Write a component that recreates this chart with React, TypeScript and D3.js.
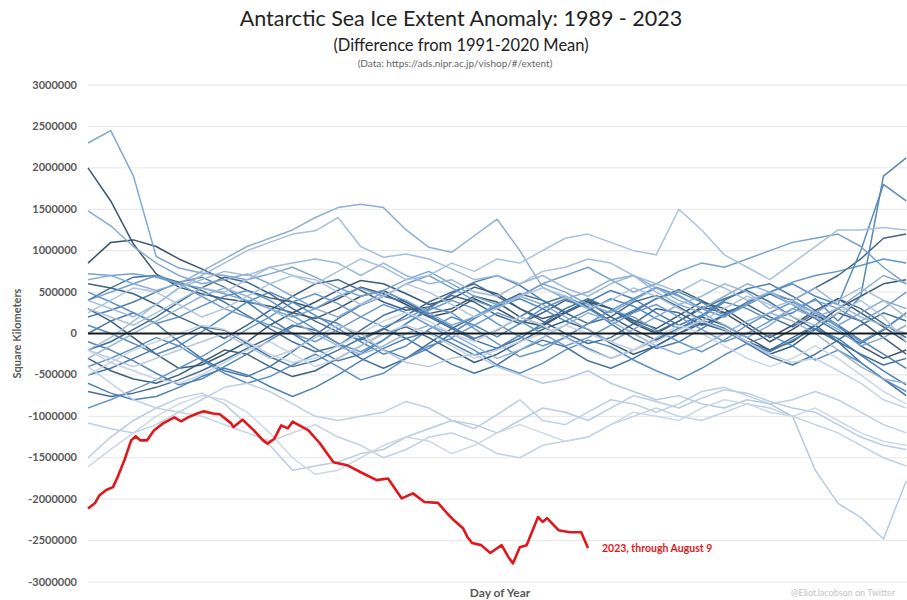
import React from "react";
import * as d3 from "d3";

const TITLE = "Antarctic Sea Ice Extent Anomaly: 1989 - 2023";
const SUBTITLE = "(Difference from 1991-2020 Mean)";
const SOURCE = "(Data: https://ads.nipr.ac.jp/vishop/#/extent)";
const Y_LABEL = "Square Kilometers";
const X_LABEL = "Day of Year";
const RED_LABEL = "2023, through August 9";
const CREDIT = "@EliotJacobson on Twitter";

const Y_TICKS = [3000000, 2500000, 2000000, 1500000, 1000000, 500000, 0, -500000, -1000000, -1500000, -2000000, -2500000, -3000000];

// sample days for the 1989-2022 series (values in thousands of km²)
const BLUE_DAYS = [1, 11, 21, 31, 41, 51, 61, 71, 81, 91, 101, 111, 121, 131, 141, 151, 161, 171, 181, 191, 201, 211, 221, 231, 241, 251, 261, 271, 281, 291, 301, 311, 321, 331, 341, 351, 361];

const YEARS = [1989, 1990, 1991, 1992, 1993, 1994, 1995, 1996, 1997, 1998, 1999, 2000, 2001, 2002, 2003, 2004, 2005, 2006, 2007, 2008, 2009, 2010, 2011, 2012, 2013, 2014, 2015, 2016, 2017, 2018, 2019, 2020, 2021, 2022];

const Y1989 = [850, 1100, 1130, 1050, 900, 780, 650, 520, 430, 380, 300, 420, 560, 480, 350, 200, 260, 420, 300, 150, 90, 250, 380, 300, 120, 0, 150, 320, 250, 80, -100, 50, 220, 100, -150, -300, -200];
const Y1990 = [2000, 1600, 1080, 720, 560, 480, 420, 380, 330, 250, 180, 300, 450, 520, 380, 240, 300, 450, 380, 200, 100, 260, 400, 300, 160, 60, 220, 380, 300, 120, -50, 100, 280, 420, 250, 80, -100];
const Y1991 = [300, 150, -50, -250, -420, -380, -250, -100, 100, 250, 380, 520, 640, 600, 480, 350, 420, 560, 480, 300, 180, 250, 380, 200, 50, -80, 50, 200, 100, -50, -200, -100, 100, 300, 450, 600, 650];
const Y1992 = [-300, -450, -550, -600, -500, -350, -200, -250, -400, -520, -450, -300, -150, 0, 80, -50, -200, -350, -250, -100, 50, 150, 50, -120, -250, -150, 0, 120, 40, -100, -250, -150, 50, 250, 150, -50, -250];
const Y1993 = [600, 550, 480, 350, 200, 80, -60, 100, 280, 450, 600, 650, 520, 380, 280, 320, 460, 380, 220, 120, 250, 400, 320, 150, 260, 420, 530, 400, 250, 350, 480, 400, 550, 700, 900, 1150, 1200];
const Y1994 = [-200, -100, 50, 200, 380, 550, 680, 620, 480, 300, 150, 20, -80, 50, 220, 380, 500, 600, 450, 300, 150, 0, -120, -50, 120, 300, 250, 100, 220, 350, 200, 80, 250, 420, 300, 120, -50];
const Y1995 = [-700, -760, -720, -650, -560, -450, -320, -180, -50, 100, 40, -120, -300, -420, -300, -120, 60, 200, 350, 480, 400, 250, 120, 200, 380, 460, 320, 160, 60, -100, -200, -50, 100, -100, -350, -550, -750];
const Y1996 = [400, 550, 680, 700, 620, 520, 380, 220, 60, -100, -220, -150, 40, 220, 320, 200, 60, -80, -180, -60, 120, 300, 420, 300, 140, 20, 150, 300, 420, 520, 380, 200, 50, -100, -250, -380, -300];
const Y1997 = [-500, -420, -300, -180, -50, 80, 40, -120, -280, -400, -330, -200, -60, 60, -60, -220, -370, -480, -380, -200, -80, -160, -330, -420, -300, -150, 0, 150, 60, -120, -280, -380, -250, -80, 100, 250, 150];
const Y1998 = [0, 150, 250, 120, -100, -300, -450, -520, -400, -220, -20, 180, 340, 450, 380, 220, 80, -60, 40, 200, 360, 450, 320, 120, -60, -180, -100, 60, 220, 380, 480, 350, 180, 20, -120, 40, 250];
const Y1999 = [200, 280, 380, 500, 620, 680, 560, 380, 180, 0, -180, -330, -250, -80, 120, 300, 480, 620, 700, 580, 400, 260, 380, 520, 420, 250, 100, 220, 400, 540, 600, 450, 280, 100, -80, -250, -420];
const Y2000 = [-600, -720, -800, -760, -650, -520, -420, -500, -640, -760, -650, -500, -330, -180, -60, 20, -120, -260, -180, -20, 80, -40, -180, -300, -200, -60, 60, 150, 40, -120, -220, -80, 60, -60, -260, -450, -620];
const Y2001 = [-100, -200, -330, -480, -620, -550, -400, -250, -80, 80, 200, 120, -50, -200, -300, -180, 0, 180, 330, 420, 300, 150, 280, 420, 330, 180, 60, 200, 380, 300, 160, 250, 420, 150, 450, 1900, 2120];
const Y2002 = [100, 0, -120, -250, -150, 20, 200, 380, 500, 380, 220, 60, -100, -250, -150, 50, 200, 100, -40, 120, 300, 420, 300, 150, 280, 420, 500, 380, 220, 350, 500, 600, 450, 350, 1000, 1800, 1600];
const Y2003 = [-400, -300, -180, -50, -150, -320, -480, -600, -520, -380, -250, -400, -560, -480, -300, -150, -60, -200, -380, -480, -360, -200, -80, -160, -320, -450, -560, -420, -260, -120, -20, -150, -320, -200, -350, -550, -700];
const Y2004 = [500, 380, 250, 120, 200, 330, 450, 520, 400, 220, 50, -120, -220, -80, 120, 280, 400, 300, 120, -40, -150, -50, 120, 280, 420, 560, 460, 300, 200, 350, 500, 620, 700, 750, 820, 900, 850];
const Y2005 = [-900, -800, -680, -560, -420, -280, -120, 50, 200, 380, 480, 360, 200, 80, 180, 320, 250, 60, -120, -280, -200, -40, 120, 280, 200, 40, -100, -220, -80, 100, 250, 380, 250, 80, -100, 50, 250];
const Y2006 = [400, 500, 600, 700, 600, 450, 300, 200, 100, 0, -100, 50, 200, 350, 250, 100, -50, 100, 250, 150, 0, -150, -50, 100, 250, 350, 200, 50, -100, 0, 150, 300, 400, 300, 150, 300, 500];
const Y2007 = [720, 700, 720, 680, 600, 550, 480, 400, 300, 200, 300, 450, 550, 450, 600, 700, 550, 400, 300, 450, 600, 700, 800, 650, 500, 600, 750, 850, 800, 900, 1000, 1100, 1150, 1200, 1050, 800, 600];
const Y2008 = [2300, 2450, 1900, 930, 790, 730, 700, 650, 720, 800, 680, 550, 450, 520, 650, 750, 600, 450, 350, 450, 600, 500, 350, 250, 400, 550, 450, 300, 200, 350, 500, 400, 250, 100, 250, 400, 300];
const Y2009 = [1480, 1300, 1050, 850, 700, 600, 650, 720, 600, 450, 300, 200, 350, 500, 400, 250, 100, 200, 350, 450, 350, 200, 50, -100, 50, 200, 350, 250, 100, -50, 100, 300, 200, 50, -150, -50, 100];
const Y2010 = [650, 700, 600, 520, 600, 750, 900, 1050, 1150, 1250, 1400, 1520, 1560, 1520, 1250, 1040, 980, 1180, 1380, 1000, 560, 420, 500, 650, 700, 550, 400, 300, 450, 600, 500, 350, 200, 300, 500, 700, 600];
const Y2011 = [-300, -150, 0, 150, 300, 450, 550, 450, 300, 150, 0, -150, -250, -150, 0, 100, 0, -150, -300, -200, -50, 100, 250, 150, 0, -150, -250, -150, 0, 150, 250, 150, 0, -200, -400, -550, -600];
const Y2012 = [400, 300, 200, 350, 550, 650, 750, 700, 800, 850, 900, 850, 700, 850, 700, 600, 650, 500, 450, 600, 700, 550, 450, 600, 700, 500, 350, 450, 600, 500, 300, 400, 550, 350, 200, 100, 0];
const Y2013 = [-200, -50, 150, 350, 550, 700, 850, 1000, 1100, 1200, 1240, 1400, 1050, 920, 960, 900, 780, 650, 700, 600, 750, 800, 900, 850, 700, 600, 500, 650, 550, 400, 500, 350, 250, 400, 550, 400, 200];
const Y2014 = [300, 200, 100, 250, 400, 550, 500, 650, 800, 700, 600, 750, 900, 800, 650, 700, 850, 750, 900, 850, 1000, 1150, 1200, 1100, 1000, 950, 1500, 1250, 950, 800, 650, 850, 1050, 1250, 1250, 1280, 1250];
const Y2015 = [250, 400, 550, 500, 350, 200, 300, 450, 600, 700, 650, 500, 350, 450, 600, 500, 350, 200, 300, 450, 550, 450, 300, 400, 550, 450, 300, 150, 300, 450, 350, 200, 100, 250, 400, 200, -100];
const Y2016 = [-200, -300, -400, -300, -200, -100, 0, -150, -300, -200, -50, 100, 0, -200, -350, -400, -300, -250, -400, -500, -600, -550, -450, -600, -700, -800, -750, -850, -900, -800, -850, -1000, -1650, -2050, -2220, -2480, -1780];
const Y2017 = [-1500, -1250, -1050, -900, -780, -720, -850, -1100, -1350, -1650, -1600, -1550, -1450, -1400, -1250, -1150, -1050, -1100, -1200, -1050, -900, -950, -1050, -900, -750, -820, -900, -780, -680, -720, -820, -900, -950, -1100, -1250, -1350, -1400];
const Y2018 = [-1080, -1150, -1200, -1100, -950, -800, -650, -600, -700, -850, -1000, -1050, -1000, -950, -820, -900, -1050, -1150, -980, -800, -1050, -1100, -950, -800, -850, -950, -850, -700, -650, -750, -850, -800, -700, -800, -950, -1100, -1200];
const Y2019 = [-400, -600, -800, -900, -950, -1000, -1100, -1200, -1300, -1200, -1100, -1250, -1350, -1500, -1400, -1250, -1200, -1300, -1450, -1500, -1350, -1300, -1250, -1100, -1000, -900, -1000, -1050, -950, -850, -900, -1000, -1100, -1200, -1350, -1500, -1600];
const Y2020 = [-200, -350, -450, -550, -600, -500, -350, -200, -100, -250, -400, -300, -150, 0, 100, 0, -150, -300, -200, -100, 0, 100, 0, -100, -200, -100, 50, 150, 50, -100, -250, -350, -300, -450, -600, -800, -900];
const Y2021 = [-500, -350, -200, -100, 0, 100, 50, -100, -250, -350, -300, -150, 0, 150, 250, 150, 0, -100, 50, 200, 100, -50, -200, -300, -200, -50, 100, 0, -150, -300, -400, -300, -150, -300, -500, -700, -850];
const Y2022 = [-1610, -1400, -1200, -1000, -850, -750, -800, -950, -1200, -1500, -1700, -1650, -1500, -1350, -1250, -1300, -1450, -1350, -1200, -1100, -1200, -1300, -1250, -1100, -950, -1000, -1050, -900, -800, -850, -950, -1000, -900, -1050, -1200, -1300, -1350];

const BLUE_SERIES = [Y1989, Y1990, Y1991, Y1992, Y1993, Y1994, Y1995, Y1996, Y1997, Y1998, Y1999, Y2000, Y2001, Y2002, Y2003, Y2004, Y2005, Y2006, Y2007, Y2008, Y2009, Y2010, Y2011, Y2012, Y2013, Y2014, Y2015, Y2016, Y2017, Y2018, Y2019, Y2020, Y2021, Y2022];

// 2023 (thousands of km²)
const RED_DAYS = [1, 4, 6, 9, 12, 14, 17, 20, 22, 24, 27, 30, 34, 39, 42, 45, 49, 52, 56, 59, 64, 65, 69, 74, 78, 80, 83, 86, 89, 91, 98, 103, 109, 115, 121, 128, 133, 139, 144, 149, 155, 159, 162, 166, 168, 170, 174, 178, 183, 186, 188, 191, 194, 199, 201, 203, 208, 213, 218, 221];
const RED_VALUES = [-2113, -2050, -1955, -1890, -1855, -1735, -1530, -1290, -1240, -1290, -1290, -1170, -1085, -1012, -1060, -1012, -965, -940, -965, -975, -1085, -1130, -1040, -1170, -1290, -1330, -1270, -1110, -1145, -1065, -1170, -1325, -1555, -1590, -1675, -1770, -1750, -1990, -1930, -2035, -2045, -2170, -2255, -2350, -2460, -2530, -2555, -2650, -2555, -2700, -2775, -2580, -2555, -2215, -2275, -2230, -2375, -2400, -2400, -2590];

const W = 907;
const H = 600;
const X0 = 88;
const PX_PER_DAY = 500 / 220;

export default function App() {
  const x = d3.scaleLinear().domain([1, 366]).range([X0, X0 + 365 * PX_PER_DAY]);
  const y = d3.scaleLinear().domain([-3000000, 3000000]).range([582, 85]);
  const blueLine = d3
    .line<[number, number]>()
    .x((d) => x(d[0]))
    .y((d) => y(d[1] * 1000))
    .curve(d3.curveLinear);
  const redLine = d3
    .line<[number, number]>()
    .x((d) => x(d[0]))
    .y((d) => y(d[1] * 1000))
    .curve(d3.curveLinear);
  const color = d3.interpolateRgbBasis(["#2f4a62", "#3a6993", "#4b86c2", "#7fa6d0", "#b3c7de", "#c9d6e6"]);
  const font = "Lato, 'Open Sans', sans-serif";
  const grey = "#595959";

  const redPts: [number, number][] = RED_DAYS.map((d, i) => [d, RED_VALUES[i]]);
  const lastRed = redPts[redPts.length - 1];

  return (
    <svg width={W} height={H} style={{ position: "absolute", left: 0, top: 0, background: "#fff" }} fontFamily={font}>
      <rect x={0} y={0} width={W} height={H} fill="#fff" />
      <text x={461} y={26} textAnchor="middle" fontSize={21.5} fill="#222">{TITLE}</text>
      <text x={461} y={51} textAnchor="middle" fontSize={16.5} fill="#222">{SUBTITLE}</text>
      <text x={455} y={67} textAnchor="middle" fontSize={10} fill="#666">{SOURCE}</text>

      {Y_TICKS.map((t) => (
        <g key={t}>
          <line x1={X0} x2={W} y1={y(t)} y2={y(t)} stroke="#e6e6e6" strokeWidth={1} />
          <text x={77} y={y(t) + 3.5} textAnchor="end" fontSize={11} fontWeight="bold" fill={grey}>{String(t)}</text>
        </g>
      ))}

      <text transform={`translate(21, ${y(0)}) rotate(-90)`} textAnchor="middle" fontSize={11} fontWeight="bold" fill={grey}>{Y_LABEL}</text>

      {BLUE_SERIES.map((vals, si) => {
        const pts: [number, number][] = vals
          .map((v, i) => [BLUE_DAYS[i], v] as [number, number])
          .filter((p) => p[0] !== undefined);
        return (
          <path
            key={YEARS[si]}
            d={blueLine(pts) || ""}
            fill="none"
            stroke={color(si / (YEARS.length - 1))}
            strokeWidth={1.5}
            strokeLinejoin="round"
            strokeOpacity={0.95}
          />
        );
      })}

      <line x1={X0} x2={W} y1={y(0)} y2={y(0)} stroke="#1a1a1a" strokeWidth={2} />

      <path d={redLine(redPts) || ""} fill="none" stroke="#e0181b" strokeWidth={2.6} strokeLinejoin="round" />
      <text x={x(lastRed[0]) + 14} y={y(lastRed[1] * 1000) + 4} fontSize={10.5} fontWeight="bold" fill="#e0181b">{RED_LABEL}</text>

      <text x={500} y={597} textAnchor="middle" fontSize={12} fontWeight="bold" fill={grey}>{X_LABEL}</text>
      <text x={791} y={596} fontSize={9} fill="#c4c4c4">{CREDIT}</text>
    </svg>
  );
}
